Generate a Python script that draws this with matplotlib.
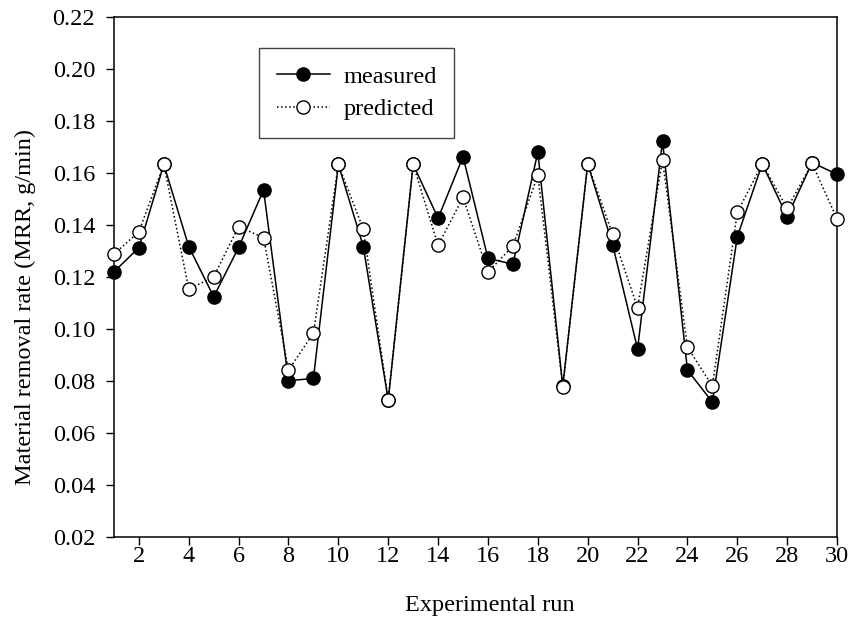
import numpy as np
import matplotlib.pyplot as plt

plt.rcParams['font.family'] = ['Liberation Serif', 'DejaVu Serif']

runs = np.arange(1, 31)
measured = [0.1220, 0.1313, 0.1633, 0.1317, 0.1124, 0.1314, 0.1535, 0.0801, 0.0810, 0.1633,
            0.1317, 0.0727, 0.1633, 0.1426, 0.1663, 0.1272, 0.1249, 0.1680, 0.0780, 0.1635,
            0.1324, 0.0923, 0.1723, 0.0842, 0.0719, 0.1355, 0.1635, 0.1432, 0.1640, 0.1595]
predicted = [0.1288, 0.1374, 0.1633, 0.1153, 0.1201, 0.1394, 0.1351, 0.0842, 0.0984, 0.1633,
             0.1384, 0.0727, 0.1633, 0.1322, 0.1506, 0.1219, 0.1319, 0.1592, 0.0778, 0.1635,
             0.1364, 0.1082, 0.1650, 0.0930, 0.0781, 0.1449, 0.1635, 0.1464, 0.1637, 0.1423]
yticks = np.arange(0.02, 0.2201, 0.02)

fig = plt.figure(figsize=(8.53, 6.32), dpi=100)
ax = fig.add_axes([0.1336, 0.1503, 0.8477, 0.8228])

ax.plot(runs, measured, '-', color='black', linewidth=1.1,
        marker='o', markersize=9.5, markerfacecolor='black', markeredgecolor='black',
        label='measured', clip_on=False, zorder=3)
ax.plot(runs, predicted, ':', color='black', linewidth=1.1,
        marker='o', markersize=9.5, markerfacecolor='white', markeredgecolor='black',
        label='predicted', clip_on=False, zorder=4)

ax.set_xlim(1, 30)
ax.set_ylim(0.02, 0.22)
ax.set_xticks(np.arange(2, 31, 2))
ax.set_yticks(yticks)
ax.set_yticklabels(['%.2f' % v for v in yticks])
ax.tick_params(axis='both', direction='out', length=5.5, width=1, labelsize=17.5,
               top=False, right=False)
ax.tick_params(axis='x', pad=1)
ax.tick_params(axis='y', pad=8)
for s in ax.spines.values():
    s.set_linewidth(1.1)

ax.set_xlabel('Experimental run', fontsize=17.5, labelpad=20, x=0.52)
ax.set_ylabel('Material removal rate (MRR, g/min)', fontsize=17.5, labelpad=12, y=0.442)

leg = ax.legend(loc='upper left', bbox_to_anchor=(0.2006, 0.94), fontsize=17.5,
                fancybox=False, framealpha=1, edgecolor='#444444',
                handlelength=2.2, handletextpad=0.55, borderpad=0.72,
                labelspacing=0.43, borderaxespad=0)
leg.get_frame().set_linewidth(1.0)

fig.savefig('out.png', dpi=100)
